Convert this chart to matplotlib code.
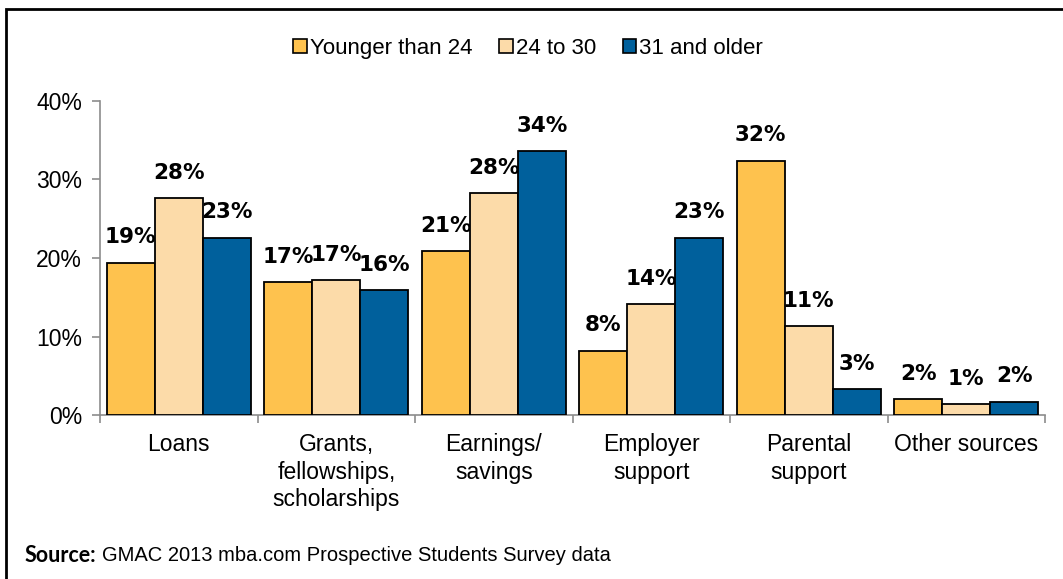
import numpy as np
import matplotlib.pyplot as plt
from matplotlib.patches import Rectangle

categories = ["Loans", "Grants,\nfellowships,\nscholarships", "Earnings/\nsavings",
              "Employer\nsupport", "Parental\nsupport", "Other sources"]
series_names = ["Younger than 24", "24 to 30", "31 and older"]
younger = [19.4, 16.9, 20.9, 8.2, 32.4, 2.0]
mid = [27.6, 17.2, 28.3, 14.1, 11.3, 1.4]
older = [22.6, 15.9, 33.6, 22.6, 3.3, 1.7]
colors = ["#FEC24E", "#FCDBA9", "#00609C"]

fig = plt.figure(figsize=(10.63, 5.79), dpi=100)
ax = fig.add_axes([0.0941, 0.2832, 0.889, 0.5424])

x = np.arange(len(categories))
width = 0.305
for i, (vals, name, c) in enumerate(zip([younger, mid, older], series_names, colors)):
    pos = x + (i - 1) * width
    ax.bar(pos, [v / 100 for v in vals], width, color=c, edgecolor="black",
           linewidth=1.3, label=name, zorder=3)
    for p, v in zip(pos, vals):
        ax.annotate(f"{v:.0f}%", (p, v / 100), xytext=(0, 11), textcoords="offset points",
                    ha="center", va="bottom", fontsize=15.5, fontweight="bold",
                    family="DejaVu Sans")

ax.set_xlim(-0.5, len(categories) - 0.5)
ax.set_ylim(0, 0.4)
ax.set_yticks([0, 0.1, 0.2, 0.3, 0.4])
ax.set_yticklabels(["0%", "10%", "20%", "30%", "40%"], family="Liberation Sans", fontsize=16.5)
ax.set_xticks(np.arange(-0.5, len(categories)), minor=False)
ax.set_xticklabels([])
ax.set_xticks(x, minor=True)
ax.set_xticklabels(categories, minor=True, family="Liberation Sans", fontsize=16.5,
                   linespacing=1.25, va="top")
ax.tick_params(axis="x", which="minor", length=0, pad=13)
ax.tick_params(axis="x", which="major", length=6, color="#8C8C8C", width=1.2)
ax.tick_params(axis="y", length=6, color="#8C8C8C", width=1.2, pad=7)
for s in ["top", "right"]:
    ax.spines[s].set_visible(False)
for s in ["left", "bottom"]:
    ax.spines[s].set_color("#8C8C8C")
    ax.spines[s].set_linewidth(1.2)

leg = fig.legend(loc="center", bbox_to_anchor=(0.497, 0.917), ncol=3, frameon=False,
                 prop={"family": "Liberation Sans", "size": 16}, handlelength=0.6,
                 handleheight=0.6, handletextpad=0.15, columnspacing=1.2)
for h in leg.legend_handles:
    h.set_linewidth(1.2)

fig.text(0.0226, 0.04, "Source:", fontsize=15.5, fontweight="bold", family="Lato",
         va="center")
fig.text(0.0226 + 0.0733, 0.04, "GMAC 2013 mba.com Prospective Students Survey data",
         fontsize=14.5, family="Liberation Sans", va="center")

# outer frame
fig.patches.append(Rectangle((0.0055, -0.05), 1.2, 1.034, transform=fig.transFigure,
                             fill=False, edgecolor="black", linewidth=2))

fig.savefig("out.png", dpi=100)
